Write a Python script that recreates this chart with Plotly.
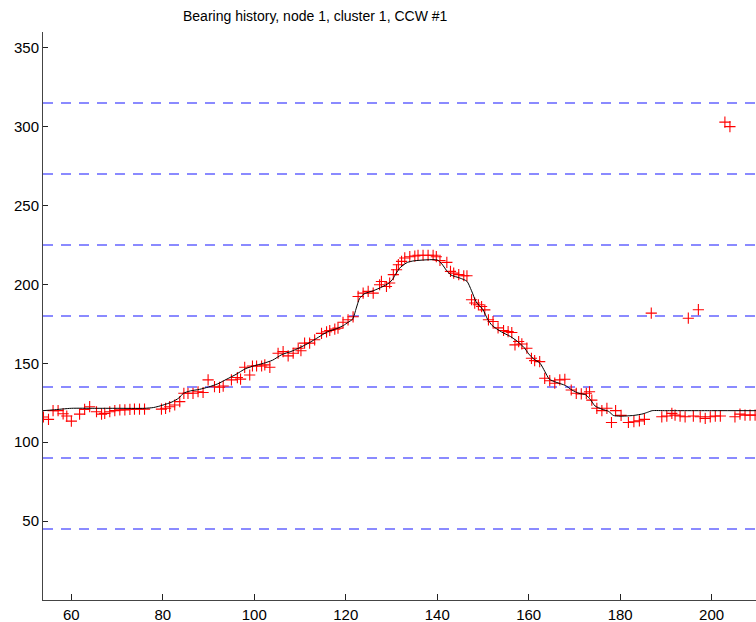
import plotly.graph_objects as go

# Measured bearings (red crosses)
meas_x = [53.9, 55.0, 56.0, 57.1, 58.2, 59.0, 60.0, 61.8, 62.9, 64.0, 65.5, 66.6, 67.3, 68.4,
          69.5, 70.6, 71.7, 72.8, 73.8, 74.9, 76.0, 79.7, 80.6, 81.5, 82.6, 83.7, 84.6, 85.5,
          86.6, 87.7, 88.8, 89.9, 91.3, 92.4, 93.2, 95.0, 96.3, 97.0, 97.9, 99.0, 99.6, 100.5,
          101.6, 102.3, 103.4, 105.2, 106.3, 107.4, 108.5, 109.6, 110.2, 111.0, 112.1, 113.2,
          114.7, 115.8, 116.5, 117.6, 118.3, 119.4, 120.5, 121.6, 122.7, 123.8, 124.9, 126.0,
          127.4, 127.8, 128.9, 129.6, 130.4, 131.1, 131.5, 132.2, 132.9, 134.0, 135.1, 135.8,
          136.9, 138.0, 139.1, 139.8, 140.6, 142.1, 142.9, 143.6, 144.7, 145.8, 146.5, 147.5,
          148.2, 149.0, 149.7, 150.4, 151.2, 152.2, 153.3, 154.5, 155.5, 156.3, 157.0, 157.8,
          158.5, 159.6, 160.6, 161.3, 162.4, 163.5, 164.6, 165.7, 166.8, 167.9, 169.3, 170.4,
          171.5, 172.6, 173.3, 173.8, 174.9, 176.0, 177.1, 178.1, 179.0, 180.2, 181.8, 183.0,
          184.2, 185.3, 186.8, 189.1, 190.2, 191.3, 192.0, 193.1, 194.2, 194.9, 196.0, 197.1,
          197.5, 198.6, 199.7, 200.8, 201.9, 202.9, 204.0, 205.1, 206.2, 207.3, 208.4, 209.5]
meas_y = [116.0, 114.5, 120.0, 120.0, 118.0, 116.6, 113.4, 117.8, 120.8, 122.5, 119.3, 117.8, 118.3, 119.3,
          120.0, 120.5, 120.5, 120.8, 121.0, 121.0, 121.0, 121.0, 121.5, 122.5, 123.6, 125.7, 131.0, 131.0,
          131.0, 132.0, 131.5, 139.5, 135.2, 134.8, 135.6, 139.5, 141.0, 140.0, 147.5, 142.6, 148.3, 148.3,
          148.3, 149.0, 147.5, 156.4, 157.4, 154.7, 156.4, 159.6, 158.0, 162.8, 162.8, 164.9,
          169.0, 170.0, 170.8, 171.7, 172.3, 176.0, 177.6, 179.5, 192.4, 194.5, 195.6, 194.5,
          199.8, 201.9, 198.7, 200.9, 206.2, 209.3, 212.5, 214.6, 216.8, 217.6, 218.0, 218.5,
          218.5, 218.5, 218.5, 217.6, 215.2, 214.0, 208.3, 207.2, 206.2, 205.5, 205.5, 190.3,
          188.2, 187.1, 186.0, 183.9, 177.6, 176.5, 172.5, 170.8, 170.1, 169.5, 161.7, 163.8,
          162.3, 159.6, 153.2, 151.7, 151.1, 140.5, 139.0, 137.4, 139.5, 139.9, 133.1, 131.0,
          130.6, 131.0, 132.0, 126.7, 121.5, 120.0, 121.5, 112.5, 120.0, 117.0, 112.5, 113.0,
          113.5, 114.5, 181.8, 116.1, 116.6, 118.3, 117.2, 116.6, 116.1, 178.6, 116.6, 184.0,
          116.1, 115.1, 116.1, 116.6, 116.6, 302.9, 300.0, 116.1, 117.8, 117.2, 117.2, 117.2]

# Tracked bearing (black line)
track_x = [53.8, 56, 60, 65, 70, 76, 78, 80, 82, 83.5, 84.5, 86, 88, 90, 92, 94, 96, 98, 100,
           102, 104, 106, 108, 110, 112, 114, 116, 118, 119.5, 120.5, 121.5, 122.3, 123, 124,
           126, 128, 129.5, 130.3, 131, 132, 133.5, 135, 140, 141, 142, 143, 145, 146.5, 147.5,
           148.5, 150, 151, 152, 154, 156, 157.5, 159, 160, 161, 162.5, 163.5, 164.5, 166, 168,
           169.5, 171, 172.5, 173.5, 174.5, 176, 177.5, 178.5, 180, 183, 185, 186, 187, 190,
           200, 209.7]
track_y = [120, 120.5, 121.5, 121.5, 121.5, 121.5, 122, 123.5, 125.5, 128, 131, 132.5, 133.5,
           135, 137, 140, 143, 146.5, 148.5, 150, 152, 155.5, 157.5, 160, 163, 166.5, 170, 172,
           174, 176, 178, 185, 191, 194, 196, 198.5, 201, 203.5, 207, 211, 214, 215, 215.5, 213,
           209, 206, 204, 202, 196, 189, 184, 178, 174, 170, 167, 164, 160, 156, 153, 150, 145,
           140, 138, 136, 133, 131, 130, 127, 123, 121, 119.5, 117, 116.5, 117, 118, 119, 120,
           120, 120, 120]

# Reference bearings (dashed blue lines)
ref_levels = [45, 90, 135, 180, 225, 270, 315]

x_range = [53.8, 209.7]
y_range = [0, 360]
x_ticks = [60, 80, 100, 120, 140, 160, 180, 200]
y_ticks = [50, 100, 150, 200, 250, 300, 350]

fig = go.Figure()

for lv in ref_levels:
    fig.add_trace(go.Scatter(
        x=x_range, y=[lv, lv], mode="lines",
        line=dict(color="rgb(100,100,255)", width=1.5, dash="10px,8px"),
        hoverinfo="skip", showlegend=False))

fig.add_trace(go.Scatter(
    x=meas_x, y=meas_y, mode="markers",
    marker=dict(symbol="cross-thin-open", size=8, color="red",
                line=dict(color="red", width=1.1)),
    showlegend=False, cliponaxis=True))

fig.add_trace(go.Scatter(
    x=track_x, y=track_y, mode="lines",
    line=dict(color="black", width=1.0, shape="spline", smoothing=0.6),
    showlegend=False))

font_family = "Liberation Sans, Arial, Helvetica, sans-serif"

fig.update_layout(
    width=756, height=622,
    margin=dict(l=43, r=0, t=32, b=22, pad=0, autoexpand=False),
    paper_bgcolor="white", plot_bgcolor="white",
    font=dict(family=font_family, size=15, color="black"),
    title=dict(text="Bearing history, node 1, cluster 1, CCW #1",
               x=183 / 756, xanchor="left", xref="container",
               y=1 - 16 / 622, yanchor="middle", yref="container",
               font=dict(size=14, family=font_family, color="black")),
    xaxis=dict(range=x_range, tickvals=x_ticks, showgrid=False, zeroline=False,
               showline=True, linecolor="#444", linewidth=1, automargin=False,
               ticks="inside", ticklen=6, tickcolor="#222", tickwidth=1,
               tickfont=dict(size=15), ticklabelstandoff=1),
    yaxis=dict(range=y_range, tickvals=y_ticks, showgrid=False, zeroline=False,
               showline=True, linecolor="#444", linewidth=1, automargin=False,
               ticks="inside", ticklen=5, tickcolor="#222", tickwidth=1,
               tickfont=dict(size=15)),
)

fig.write_html("out.html", config={"displayModeBar": False},
               post_script="document.body.style.margin='0';document.body.style.overflow='hidden';")
